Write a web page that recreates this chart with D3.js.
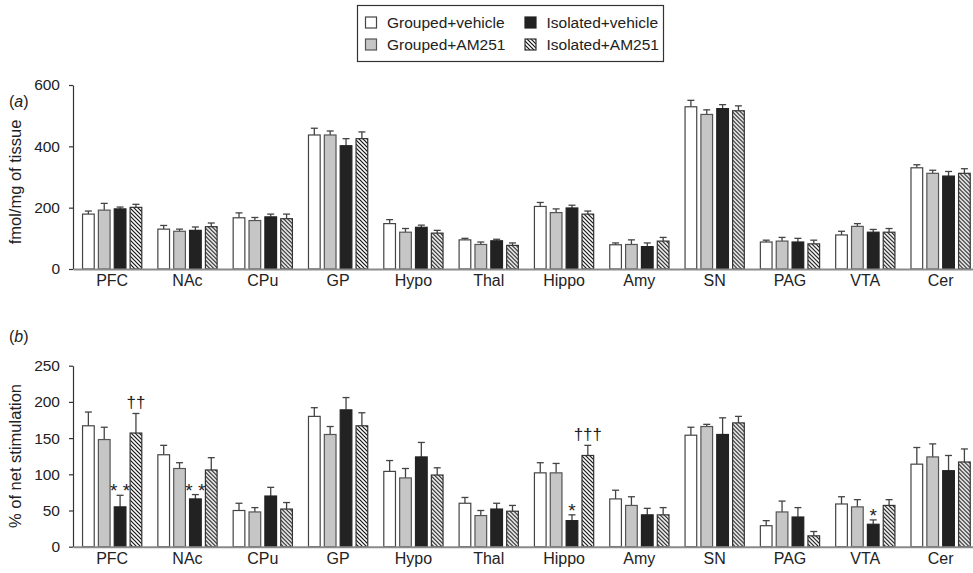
<!DOCTYPE html>
<html>
<head>
<meta charset="utf-8">
<script src="https://cdn.jsdelivr.net/npm/d3@7"></script>
<style>
  html, body { margin: 0; padding: 0; background: #fff; }
  svg { display: block; }
  text { font-family: "Liberation Sans Narrow", "Liberation Sans", Arial, sans-serif; fill: #222; }
</style>
</head>
<body>
<svg id="chart" width="973" height="573"></svg>
<script>
// Brain regions (x categories)
const regions = ["PFC", "NAc", "CPu", "GP", "Hypo", "Thal", "Hippo", "Amy", "SN", "PAG", "VTA", "Cer"];
// Treatment groups
const groups = ["Grouped+vehicle", "Grouped+AM251", "Isolated+vehicle", "Isolated+AM251"];

// (a) CB1 receptor density, fmol/mg of tissue: mean and SEM per group
const densGroupedVeh = [179, 130, 167, 437, 148, 95, 204, 79, 529, 88, 111, 330];
const densGroupedAM  = [192, 123, 158, 437, 120, 80, 184, 80, 504, 91, 139, 312];
const densIsolVeh    = [196, 126, 170, 402, 136, 92, 199, 73, 523, 88, 120, 303];
const densIsolAM     = [201, 138, 164, 425, 117, 77, 179, 91, 516, 82, 120, 312];
const densErrGroupedVeh = [10, 12, 16, 22, 13, 5, 13, 6, 21, 6, 12, 10];
const densErrGroupedAM  = [22, 7, 10, 13, 12, 8, 12, 15, 15, 12, 9, 10];
const densErrIsolVeh    = [6, 11, 9, 23, 7, 5, 9, 12, 13, 12, 9, 15];
const densErrIsolAM     = [10, 12, 15, 22, 9, 8, 10, 12, 16, 12, 12, 15];

// (b) agonist-stimulated binding, % of net stimulation: mean and SEM per group
const stimGroupedVeh = [167, 127, 50, 180, 104, 60, 102, 66, 154, 29, 59, 114];
const stimGroupedAM  = [148, 108, 48, 155, 95, 43, 102, 57, 166, 48, 55, 124];
const stimIsolVeh    = [55, 66, 70, 189, 124, 52, 36, 44, 155, 41, 31, 105];
const stimIsolAM     = [157, 106, 52, 167, 99, 49, 126, 44, 171, 15, 57, 117];
const stimErrGroupedVeh = [19, 13, 10, 12, 15, 8, 14, 12, 11, 7, 10, 23];
const stimErrGroupedAM  = [17, 8, 6, 11, 13, 7, 13, 12, 3, 15, 10, 18];
const stimErrIsolVeh    = [16, 6, 12, 17, 20, 8, 8, 9, 23, 13, 6, 21];
const stimErrIsolAM     = [27, 17, 9, 18, 10, 8, 14, 10, 9, 6, 8, 18];

// Significance marks for panel (b): region, group index, symbol
const marks = [
  { region: "PFC",   group: 2, symbol: "* *" },
  { region: "PFC",   group: 3, symbol: "††" },
  { region: "NAc",   group: 2, symbol: "* *" },
  { region: "Hippo", group: 2, symbol: "*" },
  { region: "Hippo", group: 3, symbol: "†††" },
  { region: "VTA",   group: 2, symbol: "*" }
];

const ticksA = [0, 200, 400, 600];
const ticksB = [0, 50, 100, 150, 200, 250];

const svg = d3.select("#chart");

// Hatch pattern for the Isolated+AM251 bars
const defs = svg.append("defs");
const pat = defs.append("pattern")
  .attr("id", "hatch").attr("patternUnits", "userSpaceOnUse")
  .attr("width", 4).attr("height", 4);
pat.append("rect").attr("width", 4).attr("height", 4).attr("fill", "#fff");
pat.append("path")
  .attr("d", "M-1,-1 L5,5 M-1,3 L1,5 M3,-1 L5,1")
  .attr("stroke", "#111").attr("stroke-width", 1.2);

const fills = ["#ffffff", "#c6c6c6", "#222222", "url(#hatch)"];
const strokes = ["#444", "#555", "#222", "#333"];

const x0 = d3.scaleBand().domain(regions).range([73, 973])
  .paddingInner(0.2).paddingOuter(0.075).align(0.8);
const x1 = d3.scaleBand().domain(d3.range(groups.length))
  .range([0, x0.bandwidth()]).paddingInner(0.2);

function panel(cfg) {
  const y = d3.scaleLinear().domain(cfg.domain).range(cfg.range);
  const g = svg.append("g");

  const rows = regions.map((r, i) => ({
    region: r,
    vals: cfg.means.map((m, k) => ({ k, v: m[i], e: cfg.errs[k][i] }))
  }));

  const rg = g.selectAll("g.region").data(rows).join("g")
    .attr("transform", d => `translate(${x0(d.region)},0)`);

  // error bars (upward only)
  const eb = rg.selectAll("g.err").data(d => d.vals).join("g");
  eb.append("line")
    .attr("x1", d => x1(d.k) + x1.bandwidth() / 2)
    .attr("x2", d => x1(d.k) + x1.bandwidth() / 2)
    .attr("y1", d => y(d.v)).attr("y2", d => y(d.v + d.e))
    .attr("stroke", "#444").attr("stroke-width", 1.3);
  eb.append("line")
    .attr("x1", d => x1(d.k) + x1.bandwidth() / 2 - 3.5)
    .attr("x2", d => x1(d.k) + x1.bandwidth() / 2 + 3.5)
    .attr("y1", d => y(d.v + d.e)).attr("y2", d => y(d.v + d.e))
    .attr("stroke", "#444").attr("stroke-width", 1.3);

  rg.selectAll("rect").data(d => d.vals).join("rect")
    .attr("x", d => x1(d.k) + 0.5)
    .attr("y", d => y(d.v))
    .attr("width", x1.bandwidth() - 1)
    .attr("height", d => y(0) - y(d.v))
    .attr("fill", d => fills[d.k])
    .attr("stroke", d => strokes[d.k])
    .attr("stroke-width", 1.2);

  // y axis
  const ya = g.append("g").attr("transform", "translate(73,0)")
    .call(d3.axisLeft(y).tickValues(cfg.ticks).tickSize(4).tickSizeOuter(0).tickPadding(9));
  ya.select(".domain").attr("stroke", "#333").attr("stroke-width", 1.2);
  ya.selectAll(".tick line").attr("stroke", "#333").attr("stroke-width", 1.2);
  ya.selectAll(".tick text").style("font-size", "15.5px").attr("fill", "#222");

  // x axis
  const xa = g.append("g").attr("transform", `translate(0,${y(0)})`)
    .call(d3.axisBottom(x0).tickSize(0).tickSizeOuter(0).tickPadding(6));
  xa.select(".domain").attr("stroke", "#8a8a8a").attr("stroke-width", 2);
  xa.selectAll(".tick text").style("font-size", "16px").attr("fill", "#222");

  // axis title
  g.append("text")
    .attr("transform", `translate(${cfg.titleX},${cfg.titleY}) rotate(-90)`)
    .attr("text-anchor", "middle")
    .style("font-family", "'Liberation Sans', Arial, sans-serif")
    .style("font-size", "16.5px")
    .text(cfg.title);

  // panel letter
  const lab = g.append("text").attr("x", 9).attr("y", cfg.letterY)
    .style("font-family", "'Liberation Sans', Arial, sans-serif")
    .style("font-size", "16px");
  lab.append("tspan").text("(");
  lab.append("tspan").style("font-style", "italic").text(cfg.letter);
  lab.append("tspan").text(")");

  return { y, g };
}

panel({
  domain: [0, 600], range: [269, 85], ticks: ticksA,
  means: [densGroupedVeh, densGroupedAM, densIsolVeh, densIsolAM],
  errs: [densErrGroupedVeh, densErrGroupedAM, densErrIsolVeh, densErrIsolAM],
  title: "fmol/mg of tissue", titleX: 21, titleY: 182, letter: "a", letterY: 107
});

const pb = panel({
  domain: [0, 250], range: [546.7, 365.7], ticks: ticksB,
  means: [stimGroupedVeh, stimGroupedAM, stimIsolVeh, stimIsolAM],
  errs: [stimErrGroupedVeh, stimErrGroupedAM, stimErrIsolVeh, stimErrIsolAM],
  title: "% of net stimulation", titleX: 21, titleY: 456, letter: "b", letterY: 342
});

// significance symbols above the error bars
const stimMeans = [stimGroupedVeh, stimGroupedAM, stimIsolVeh, stimIsolAM];
const stimErrs = [stimErrGroupedVeh, stimErrGroupedAM, stimErrIsolVeh, stimErrIsolAM];
pb.g.selectAll("text.mark").data(marks).join("text")
  .attr("class", "mark")
  .attr("x", d => x0(d.region) + x1(d.group) + x1.bandwidth() / 2)
  .attr("y", d => {
    const i = regions.indexOf(d.region);
    const top = pb.y(stimMeans[d.group][i] + stimErrs[d.group][i]);
    return d.symbol.startsWith("†") ? top - 5 : top + 2;
  })
  .attr("text-anchor", "middle")
  .style("font-family", "'Liberation Sans', Arial, sans-serif")
  .style("font-size", d => d.symbol.startsWith("†") ? "17px" : "19px")
  .attr("fill", d => d.symbol.startsWith("†") ? "#222" : "#555")
  .text(d => d.symbol);

// legend
const lg = svg.append("g");
lg.append("rect").attr("x", 357.5).attr("y", 5.5).attr("width", 306).attr("height", 56)
  .attr("fill", "#fff").attr("stroke", "#333").attr("stroke-width", 1.2);
const legPos = [[365, 23], [365, 45], [524.5, 23], [524.5, 45]];
groups.forEach((name, k) => {
  const [lx, ly] = legPos[k];
  lg.append("rect").attr("x", lx + 0.5).attr("y", ly - 6).attr("width", 11).attr("height", 11)
    .attr("fill", fills[k]).attr("stroke", strokes[k]).attr("stroke-width", 1.2);
  lg.append("text").attr("x", lx + 22).attr("y", ly).attr("dy", "0.35em")
    .style("font-family", "'Liberation Sans', Arial, sans-serif")
    .style("font-size", "15.5px").text(name);
});
</script>
</body>
</html>
